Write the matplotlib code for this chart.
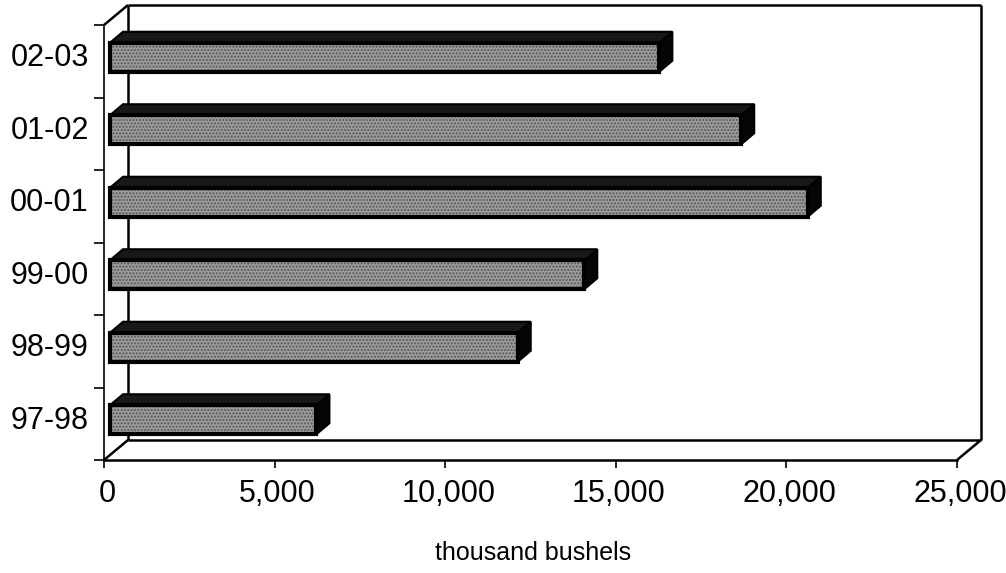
import matplotlib
matplotlib.use("Agg")
import matplotlib.pyplot as plt
import matplotlib.transforms as mtransforms
from matplotlib.patches import Polygon, Rectangle
import numpy as np

plt.rcParams['font.family'] = ['Liberation Sans', 'DejaVu Sans']

# ---- data ----
seasons = ["97-98", "98-99", "99-00", "00-01", "01-02", "02-03"]
values = [6050, 11950, 13900, 20450, 18500, 16100]
xticks = [0, 5000, 10000, 15000, 20000, 25000]
xlabel = "thousand bushels"

W, H = 1006, 573
fig = plt.figure(figsize=(W / 100, H / 100), dpi=100)
left_px, right_px, floor_px, top_px = 104, 957, 460, 25
ax = fig.add_axes([left_px / W, (H - floor_px) / H,
                   (right_px - left_px) / W, (floor_px - top_px) / H])
XMAX = 25000
ax.set_xlim(0, XMAX)
ax.set_ylim(-0.5, len(seasons) - 0.5)

px_x = XMAX / (right_px - left_px)          # data units per pixel (x)
px_y = len(seasons) / (floor_px - top_px)   # data units per pixel (y)

# wall depth offset
Dx, Dy = 24 * px_x, 20 * px_y
y0, y1 = -0.5, len(seasons) - 0.5
lw_frame = 1.8
k = dict(color='black', lw=lw_frame, clip_on=False, solid_capstyle='butt')
# back wall
ax.plot([Dx, Dx], [y0 + Dy, y1 + Dy], zorder=1, **k)
ax.plot([Dx, XMAX + Dx], [y1 + Dy, y1 + Dy], zorder=1, **k)
ax.plot([XMAX + Dx, XMAX + Dx], [y0 + Dy, y1 + Dy], zorder=1, **k)
ax.plot([Dx, XMAX + Dx], [y0 + Dy, y0 + Dy], zorder=1, **k)
# connectors
ax.plot([0, Dx], [y1, y1 + Dy], zorder=1, **k)
ax.plot([0, Dx], [y0, y0 + Dy], zorder=1, **k)
ax.plot([XMAX, XMAX + Dx], [y0, y0 + Dy], zorder=1, **k)

for s in ['top', 'right']:
    ax.spines[s].set_visible(False)
ax.spines['left'].set_linewidth(1.2)
ax.spines['bottom'].set_linewidth(1.8)

# ---- bars ----
ox = 6 * px_x             # front face offset from axis
cy = 4 * px_y             # vertical shift of bar front face
h = 0.40                  # bar thickness
dx, dy = 13 * px_x, 11 * px_y   # bar depth
for i, v in enumerate(values):
    xl, xr = ox, ox + v
    yb, yt = i + cy - h / 2, i + cy + h / 2
    # side (dark)
    ax.add_patch(Polygon([(xr, yb), (xr, yt), (xr + dx, yt + dy), (xr + dx, yb + dy)],
                         closed=True, facecolor='#050505', edgecolor='black',
                         lw=1.5, zorder=3))
    # top (dark)
    ax.add_patch(Polygon([(xl, yt), (xr, yt), (xr + dx, yt + dy), (xl + dx, yt + dy)],
                         closed=True, facecolor='#181818', edgecolor='black',
                         lw=1.5, zorder=3))
    # front face (textured grey)
    ax.add_patch(Rectangle((xl, yb), v, h, facecolor='#9c9c9c',
                           edgecolor='#555555', hatch='.....', lw=0, zorder=4))
    ax.add_patch(Rectangle((xl, yb), v, h, facecolor='none',
                           edgecolor='black', lw=3.0, zorder=5))

# ---- ticks ----
ax.set_yticks(range(len(seasons)))
ax.set_yticklabels(seasons, fontsize=22)
ax.set_yticks(np.arange(-0.5, len(seasons)), minor=True)
ax.tick_params(axis='y', which='major', length=0, pad=11)
ax.tick_params(axis='y', which='minor', length=7, width=1.2, direction='out')
shift = mtransforms.ScaledTranslation(0, 6.5 / 100, fig.dpi_scale_trans)
for lab in ax.get_yticklabels():
    lab.set_transform(lab.get_transform() + shift)

ax.set_xticks(xticks)
ax.set_xticklabels([f"{t:,}" for t in xticks], fontsize=22)
ax.tick_params(axis='x', length=6, width=1.2, direction='out', pad=8)
shiftx = mtransforms.ScaledTranslation(3 / 100, 0, fig.dpi_scale_trans)
for lab in ax.get_xticklabels():
    lab.set_transform(lab.get_transform() + shiftx)

fig.text(533 / W, 1 - 553 / H, xlabel, ha='center', va='center', fontsize=18)

fig.savefig("out.png", dpi=100)
